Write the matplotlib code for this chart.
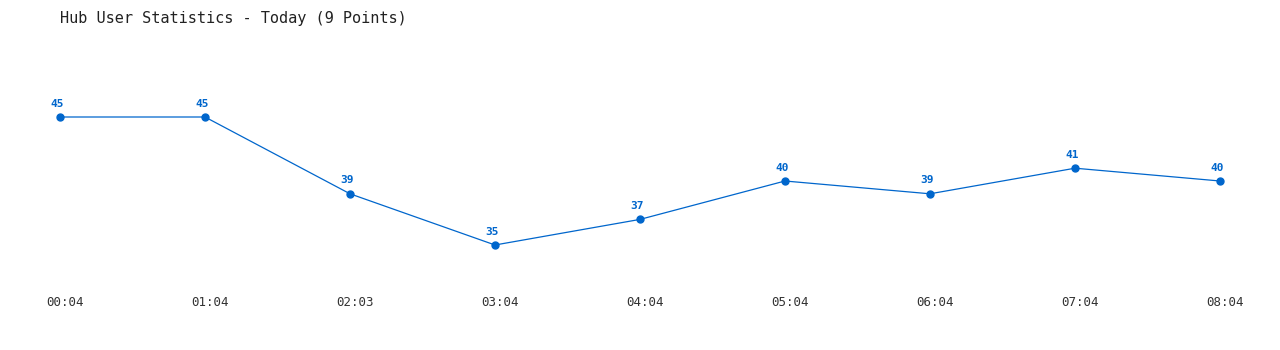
import matplotlib
matplotlib.use("Agg")
import matplotlib.pyplot as plt
import matplotlib.transforms as mtransforms

times = ["00:04", "01:04", "02:03", "03:04", "04:04", "05:04", "06:04", "07:04", "08:04"]
users = [45, 45, 39, 35, 37, 40, 39, 41, 40]
title = "Hub User Statistics - Today (9 Points)"

color = "#0066cc"
W, H = 1280, 350
fig = plt.figure(figsize=(W / 100, H / 100), dpi=100)
ax = fig.add_axes([0, 0, 1, 1])
ax.set_axis_off()

# pixel mapping: x_px = 60 + 145*i ; y_px = 117 + (45 - v)*12.8
ax.set_xlim(-60 / 145, (W - 60) / 145)
ax.set_ylim(45 - (H - 117) / 12.8, 45 + 117 / 12.8)

xs = list(range(len(users)))
ax.plot(xs, users, color=color, lw=0.9, marker="o", ms=5, mec=color, mfc=color, zorder=3)

for x, v in zip(xs, users):
    ax.annotate(str(v), (x, v), xytext=(-2, 6), textcoords="offset points",
                ha="center", va="bottom", fontsize=8, fontweight="bold",
                color=color, family="DejaVu Sans Mono")

trans = mtransforms.blended_transform_factory(ax.transData, fig.transFigure)
for x, t in zip(xs, times):
    ax.text(x + 5 / 145, 1 - 303 / H, t, transform=trans, ha="center", va="center",
            fontsize=9, color="#333333", family="DejaVu Sans Mono")

fig.text(60 / W, 1 - 18 / H, title, ha="left", va="center", fontsize=11,
         color="#222222", family="DejaVu Sans Mono")

fig.savefig("out.png", dpi=100, facecolor="white")
